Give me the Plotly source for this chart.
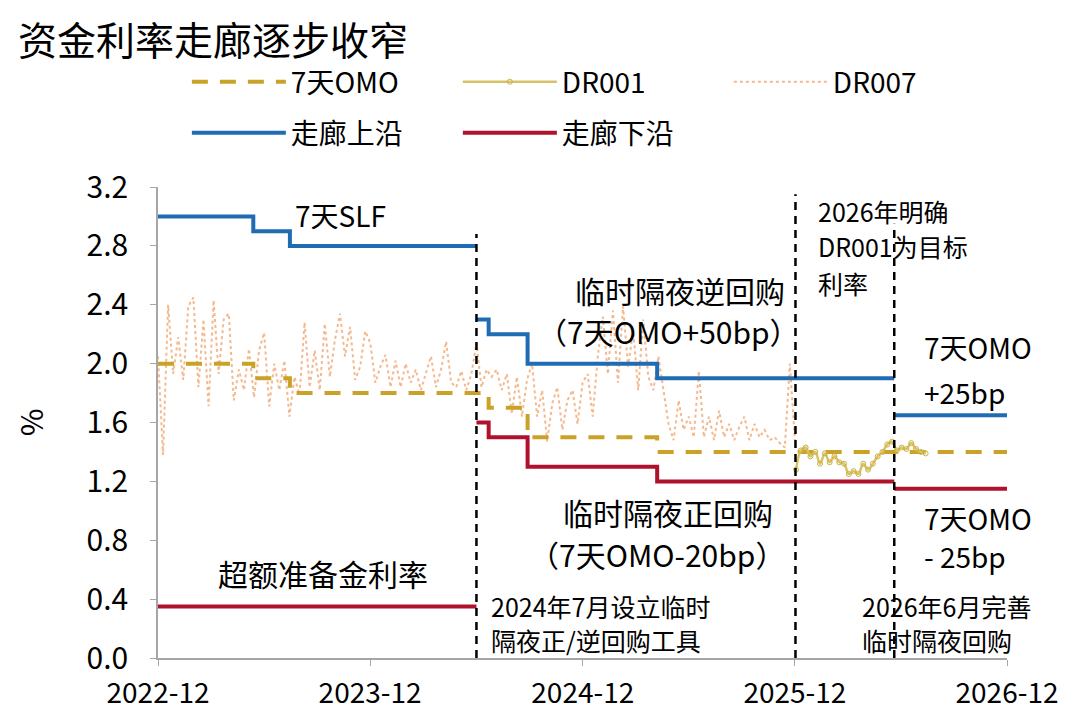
import pandas as pd
import plotly.graph_objects as go

# policy rate steps (date of change, value)
omo_dates = ['2022-12-31', '2023-06-13', '2023-08-15', '2024-07-22', '2024-09-27', '2025-05-08', '2026-12-31']
omo_vals = [2.0, 1.9, 1.8, 1.7, 1.5, 1.4, 1.4]

upper_dates = ['2022-12-31', '2023-06-13', '2023-08-15', '2024-07-01', None,
               '2024-07-01', '2024-07-22', '2024-09-27', '2025-05-08', '2026-06-20', None,
               '2026-06-20', '2026-12-31']
upper_vals = [3.0, 2.9, 2.8, 2.8, None, 2.3, 2.2, 2.0, 1.9, 1.9, None, 1.65, 1.65]

lower_dates = ['2022-12-31', '2024-07-01', None,
               '2024-07-01', '2024-07-22', '2024-09-27', '2025-05-08', '2026-06-20', None,
               '2026-06-20', '2026-12-31']
lower_vals = [0.35, 0.35, None, 1.6, 1.5, 1.3, 1.2, 1.2, None, 1.15, 1.15]

# DR007, 2022-12-31 .. 2025-12-31
dr007 = [2.05, 1.38, 2.40, 1.93, 2.18, 1.89, 2.39, 2.45, 1.84, 2.30, 1.71, 2.43, 1.93, 2.30,
         2.34, 1.75, 1.96, 1.82, 2.10, 1.77, 2.09, 2.21, 1.71, 2.00, 1.82, 2.02, 1.64, 1.91,
         1.79, 2.28, 1.84, 2.09, 1.82, 2.27, 1.91,
         2.16, 2.34, 2.05, 2.25, 1.89, 1.98, 2.22, 2.14, 1.87, 1.98, 2.06, 1.84, 2.02, 1.84,
         2.00, 1.87, 1.96, 1.82, 1.93, 2.05, 1.84, 1.96, 2.15, 1.87, 1.84, 1.95, 1.82, 1.93,
         2.14, 1.84, 1.96,
         1.91, 1.96, 1.82, 1.93, 1.66, 1.91, 1.64, 1.89, 2.00, 1.64, 1.82, 1.47, 1.73, 1.84,
         1.55, 1.75, 1.82, 1.59, 1.87, 1.93, 1.64, 2.05, 2.32, 1.93, 2.36, 1.87, 2.39, 1.98,
         2.23, 1.82, 2.30, 1.91, 1.82, 2.05,
         1.82, 1.59, 1.48, 1.75, 1.55, 1.64, 1.50, 1.95, 1.50, 1.64, 1.48, 1.68, 1.50, 1.59,
         1.48, 1.57, 1.64, 1.48, 1.59, 1.50, 1.55, 1.48, 1.50, 1.46, 1.43, 2.00, 1.48]
dr007_dates = pd.date_range('2022-12-31', '2025-12-31', periods=len(dr007))

# DR001, 2026-01 .. 2026-08
dr001 = [1.28, 1.41, 1.43, 1.37, 1.40, 1.32, 1.39, 1.33, 1.37, 1.33, 1.32, 1.25, 1.27, 1.25,
         1.32, 1.28, 1.32, 1.37, 1.40, 1.45, 1.47, 1.41, 1.43, 1.42, 1.46, 1.42, 1.40, 1.39]
dr001_dates = pd.date_range('2026-01-02', '2026-08-13', periods=len(dr001))

event_dates = ['2024-07-01', '2026-01-01', '2026-06-20']
event_tops = [2.88, 3.15, 2.95]

tick_dates = ['2022-12-31', '2023-12-31', '2024-12-31', '2025-12-31', '2026-12-31']
tick_text = ['2022-12', '2023-12', '2024-12', '2025-12', '2026-12']

GOLD = '#C9A227'
BLUE = '#1F6CB5'
RED = '#B0122E'
CJK = 'Noto Sans CJK SC'

fig = go.Figure()
fig.add_trace(go.Scatter(x=dr007_dates, y=dr007, name='DR007', mode='lines',
                         line=dict(color='#F4B98E', width=2, dash='dot'),
                         legend='legend', legendrank=3))
fig.add_trace(go.Scatter(x=omo_dates, y=omo_vals, name='7天OMO', mode='lines',
                         line=dict(color=GOLD, width=4, dash='16px,12px', shape='hv'),
                         legend='legend', legendrank=1))
fig.add_trace(go.Scatter(x=dr001_dates, y=dr001, name='DR001', mode='lines+markers',
                         line=dict(color='#D8C266', width=2.5, shape='spline'),
                         marker=dict(symbol='circle-open', size=5, color='#CDB040'),
                         legend='legend', legendrank=2))
fig.add_trace(go.Scatter(x=upper_dates, y=upper_vals, name='走廊上沿', mode='lines',
                         line=dict(color=BLUE, width=4, shape='hv'),
                         legend='legend2', legendrank=4))
fig.add_trace(go.Scatter(x=lower_dates, y=lower_vals, name='走廊下沿', mode='lines',
                         line=dict(color=RED, width=4, shape='hv'),
                         legend='legend2', legendrank=5))

for d, top in zip(event_dates, event_tops):
    fig.add_shape(type='line', xref='x', yref='y', x0=d, x1=d, y0=0, y1=top,
                  opacity=1, layer='above',
                  line=dict(color='black', width=2.5, dash='8px,6px'))

notes = [
    ('2023-08-20', 3.01, '7天SLF', 28, 'left'),
    ('2025-06-17', 2.50, '临时隔夜逆回购', 30, 'center'),
    ('2025-05-27', 2.22, '（7天OMO+50bp）', 30, 'center'),
    ('2025-05-27', 0.99, '临时隔夜正回购', 30, 'center'),
    ('2025-05-07', 0.71, '（7天OMO-20bp）', 30, 'center'),
    ('2023-10-11', 0.58, '超额准备金利率', 30, 'center'),
    ('2024-07-22', 0.35, '2024年7月设立临时', 25, 'left'),
    ('2024-07-22', 0.12, '隔夜正/逆回购工具', 25, 'left'),
    ('2026-02-05', 3.04, '2026年明确', 25, 'left'),
    ('2026-02-05', 2.80, 'DR001为目标', 25, 'left'),
    ('2026-02-05', 2.55, '利率', 25, 'left'),
    ('2026-08-06', 2.11, '7天OMO', 28, 'left'),
    ('2026-08-06', 1.81, '+25bp', 28, 'left'),
    ('2026-08-06', 0.95, '7天OMO', 28, 'left'),
    ('2026-08-06', 0.69, '- 25bp', 28, 'left'),
    ('2026-04-22', 0.35, '2026年6月完善', 25, 'left'),
    ('2026-04-22', 0.12, '临时隔夜回购', 25, 'left'),
]
for x, y, t, s, anchor in notes:
    fig.add_annotation(x=x, y=y, xref='x', yref='y', text=t, showarrow=False,
                       xanchor=anchor, yanchor='middle',
                       font=dict(family=CJK, size=s, color='black'))

# the page adds an 8px body margin, so the figure is 8px smaller than the window
W, H = 1072, 708
fig.update_layout(
    width=W, height=H,
    template='simple_white',
    plot_bgcolor='white',
    margin=dict(l=150, r=73, t=179, b=58, autoexpand=False),
    font=dict(family=CJK, size=26, color='black'),
    title=dict(text='资金利率走廊逐步收窄', x=10 / W, xref='container', xanchor='left',
               y=1 - 33 / H, yref='container', yanchor='middle',
               font=dict(family=CJK, size=39, color='black')),
    showlegend=True,
    legend=dict(orientation='h', x=0.034, y=(658 - 82) / 471, xanchor='left', yanchor='middle',
                entrywidth=162, entrywidthmode='pixels', itemwidth=94,
                font=dict(family=CJK, size=28), bgcolor='rgba(0,0,0,0)',
                traceorder='normal'),
    legend2=dict(orientation='h', x=0.034, y=(658 - 133) / 471, xanchor='left', yanchor='middle',
                 entrywidth=162, entrywidthmode='pixels', itemwidth=94,
                 font=dict(family=CJK, size=28), bgcolor='rgba(0,0,0,0)',
                 traceorder='normal'),
)
fig.update_xaxes(type='date', range=['2022-12-31', '2026-12-31'],
                 tickvals=tick_dates, ticktext=tick_text, automargin=False,
                 showline=True, linecolor='#A6A6A6', linewidth=1.5,
                 ticks='outside', ticklen=6, tickcolor='#A6A6A6', ticklabelstandoff=4,
                 tickfont=dict(family=CJK, size=28), showgrid=False, zeroline=False)
fig.update_yaxes(range=[0, 3.2], tickvals=[0, 0.4, 0.8, 1.2, 1.6, 2.0, 2.4, 2.8, 3.2],
                 tickformat='.1f', showline=True, linecolor='#A6A6A6', linewidth=1.5,
                 ticks='outside', ticklen=6, tickcolor='#A6A6A6', automargin=False,
                 ticklabelstandoff=16,
                 tickfont=dict(family=CJK, size=30), showgrid=False, zeroline=False,
                 title=dict(text='%', font=dict(family=CJK, size=30), standoff=50))

fig.write_html('out.html')
